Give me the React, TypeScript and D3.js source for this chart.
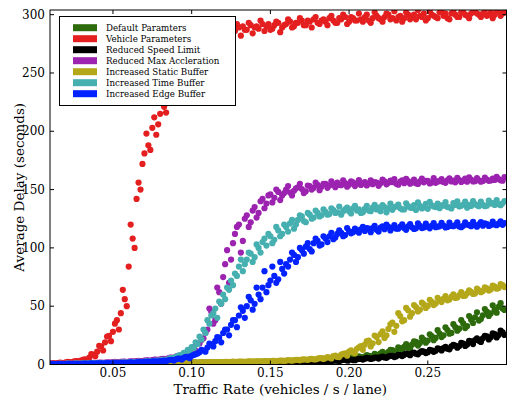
import React from "react";
import * as d3 from "d3";

// traffic rates (vehicles / s / lane), first batch of runs
const rates = [
  0.01, 0.0125, 0.015, 0.0175, 0.02, 0.0225, 0.025, 0.0275, 0.03, 0.0325,
  0.035, 0.0375, 0.04, 0.0425, 0.045, 0.0475, 0.05, 0.0525, 0.055, 0.0575,
  0.06, 0.0625, 0.065, 0.0675, 0.07, 0.0725, 0.075, 0.0775, 0.08, 0.0825,
  0.085, 0.0875, 0.09, 0.0925, 0.095, 0.0975, 0.1, 0.1025, 0.105, 0.1075,
  0.11, 0.1125, 0.115, 0.1175, 0.12, 0.1225, 0.125, 0.1275, 0.13, 0.1325,
  0.135, 0.1375, 0.14, 0.1425, 0.145, 0.1475, 0.15, 0.1525, 0.155, 0.1575,
  0.16, 0.1625, 0.165, 0.1675, 0.17, 0.1725, 0.175, 0.1775, 0.18, 0.1825,
  0.185, 0.1875, 0.19, 0.1925, 0.195, 0.1975, 0.2, 0.2025, 0.205, 0.2075,
  0.21, 0.2125, 0.215, 0.2175, 0.22, 0.2225, 0.225, 0.2275, 0.23, 0.2325,
  0.235, 0.2375, 0.24, 0.2425, 0.245, 0.2475, 0.25, 0.2525, 0.255, 0.2575,
  0.26, 0.2625, 0.265, 0.2675, 0.27, 0.2725, 0.275, 0.2775, 0.28, 0.2825,
  0.285, 0.2875, 0.29, 0.2925, 0.295, 0.2975,
];

// second batch of runs, in between
const ratesB = [
  0.01125, 0.01375, 0.01625, 0.01875, 0.02125, 0.02375, 0.02625, 0.02875, 0.03125, 0.03375,
  0.03625, 0.03875, 0.04125, 0.04375, 0.04625, 0.04875, 0.05125, 0.05375, 0.05625, 0.05875,
  0.06125, 0.06375, 0.06625, 0.06875, 0.07125, 0.07375, 0.07625, 0.07875, 0.08125, 0.08375,
  0.08625, 0.08875, 0.09125, 0.09375, 0.09625, 0.09875, 0.10125, 0.10375, 0.10625, 0.10875,
  0.11125, 0.11375, 0.11625, 0.11875, 0.12125, 0.12375, 0.12625, 0.12875, 0.13125, 0.13375,
  0.13625, 0.13875, 0.14125, 0.14375, 0.14625, 0.14875, 0.15125, 0.15375, 0.15625, 0.15875,
  0.16125, 0.16375, 0.16625, 0.16875, 0.17125, 0.17375, 0.17625, 0.17875, 0.18125, 0.18375,
  0.18625, 0.18875, 0.19125, 0.19375, 0.19625, 0.19875, 0.20125, 0.20375, 0.20625, 0.20875,
  0.21125, 0.21375, 0.21625, 0.21875, 0.22125, 0.22375, 0.22625, 0.22875, 0.23125, 0.23375,
  0.23625, 0.23875, 0.24125, 0.24375, 0.24625, 0.24875, 0.25125, 0.25375, 0.25625, 0.25875,
  0.26125, 0.26375, 0.26625, 0.26875, 0.27125, 0.27375, 0.27625, 0.27875, 0.28125, 0.28375,
  0.28625, 0.28875, 0.29125, 0.29375, 0.29625, 0.29875,
];

// average delay (seconds), batch A
const defaultParams = [
  0.2, 0.3, 0.3, 0.4, 0.4, 0.5, 0.5, 0.5, 0.6, 0.6,
  0.6, 0.7, 0.7, 0.7, 0.8, 0.8, 0.9, 0.9, 0.9, 1.0,
  1.0, 1.0, 1.1, 1.1, 1.1, 1.2, 1.2, 1.2, 1.3, 1.3,
  1.3, 1.4, 1.4, 1.4, 1.5, 1.5, 1.5, 1.6, 1.6, 1.6,
  1.7, 1.7, 1.7, 1.8, 1.8, 1.8, 1.9, 1.9, 2.0, 2.0,
  2.0, 2.1, 2.1, 2.2, 2.2, 2.3, 2.3, 2.4, 2.4, 2.5,
  2.5, 2.6, 2.7, 2.8, 2.9, 3.0, 3.1, 3.3, 3.4, 3.6,
  3.8, 4.0, 4.3, 4.1, 4.8, 5.0, 5.3, 5.1, 5.9, 6.4,
  6.8, 7.5, 7.1, 8.3, 9.5, 8.6, 10.8, 12.4, 11.2, 13.9,
  15.1, 14.2, 17.0, 19.5, 18.4, 21.1, 20.5, 24.3, 22.8, 26.6,
  25.0, 29.5, 27.1, 32.0, 30.7, 35.2, 33.0, 38.4, 40.5, 37.7,
  42.2, 45.3, 43.8, 47.0, 49.5, 48.0,
];
const vehicleParams = [
  0.8, 1.0, 1.2, 1.5, 1.8, 2.1, 2.5, 3.0, 3.6, 4.4,
  6.0, 8.5, 11.0, 15.5, 19.0, 24.5, 28.0, 38.0, 44.0, 56.0,
  84, 108, 142, 150, 181, 188, 203, 197, 215, 221,
  232, 244, 252, 260, 266, 270, 274, 277, 279, 281,
  283, 282, 285, 286, 284, 287, 288, 286, 289, 290,
  287, 291, 289, 288, 292, 290, 287, 291, 293, 289,
  292, 294, 290, 293, 295, 291, 294, 296, 293, 295,
  294, 297, 295, 293, 296, 298, 294, 297, 295, 296,
  298, 295, 297, 299, 296, 298, 300, 297, 295, 299,
  297, 300, 298, 296, 299, 301, 297, 300, 298, 302,
  299, 297, 301, 300, 298, 302, 299, 301, 303, 300,
  301, 299, 302, 300, 303, 301,
];
const speedLimit = [
  0.1, 0.1, 0.2, 0.2, 0.2, 0.3, 0.3, 0.3, 0.3, 0.4,
  0.4, 0.4, 0.5, 0.5, 0.5, 0.5, 0.6, 0.6, 0.6, 0.7,
  0.7, 0.7, 0.7, 0.8, 0.8, 0.8, 0.9, 0.9, 0.9, 0.9,
  1.0, 1.0, 1.0, 1.1, 1.1, 1.1, 1.2, 1.2, 1.2, 1.3,
  1.3, 1.3, 1.4, 1.4, 1.4, 1.5, 1.5, 1.5, 1.6, 1.6,
  1.6, 1.7, 1.7, 1.8, 1.8, 1.8, 1.9, 1.9, 2.0, 2.0,
  2.1, 2.1, 2.2, 2.3, 2.3, 2.4, 2.5, 2.6, 2.7, 2.8,
  2.9, 3.1, 3.3, 3.2, 3.6, 3.9, 4.1, 3.8, 4.5, 4.8,
  5.0, 5.4, 5.2, 6.0, 6.3, 6.1, 6.9, 7.4, 7.0, 8.1,
  8.4, 8.9, 9.6, 9.2, 10.5, 11.0, 10.6, 12.1, 11.8, 13.4,
  14.0, 13.6, 15.5, 16.3, 15.8, 18.0, 17.2, 19.8, 21.0, 20.3,
  22.5, 24.1, 23.4, 26.0, 25.2, 27.5,
];
const maxAccel = [
  0.5, 0.6, 0.7, 0.7, 0.8, 0.9, 1.0, 1.0, 1.1, 1.2,
  1.3, 1.4, 1.5, 1.6, 1.7, 1.8, 2.0, 2.1, 2.2, 2.4,
  2.5, 2.7, 2.9, 3.0, 3.3, 3.5, 3.8, 4.1, 4.4, 4.8,
  5.2, 6.0, 6.8, 7.5, 9.0, 11.0, 13.5, 12.0, 18.0, 22.5,
  30.0, 45.0, 38.0, 62.0, 75.0, 98.0, 90.0, 112.0, 120.0, 106.0,
  128.0, 122.0, 135.0, 130.0, 142.0, 138.0, 146.0, 143.0, 148.0, 145.0,
  150.0, 147.5, 149.0, 152.0, 150.5, 148.5, 153.0, 151.5, 154.0, 152.5,
  155.0, 153.5, 154.5, 156.0, 153.8, 155.5, 154.2, 156.2, 155.0, 154.0,
  156.5, 155.2, 154.6, 156.0, 155.4, 157.0, 155.8, 156.4, 155.0, 156.8,
  155.5, 157.2, 156.0, 155.4, 157.0, 156.2, 157.5, 156.0, 155.8, 157.2,
  156.5, 158.0, 157.0, 156.2, 158.2, 157.5, 156.8, 158.5, 157.2, 158.0,
  157.4, 158.6, 157.8, 158.2, 159.0, 157.6,
];
const staticBuffer = [
  0.3, 0.3, 0.4, 0.4, 0.5, 0.5, 0.5, 0.6, 0.6, 0.6,
  0.7, 0.7, 0.8, 0.8, 0.8, 0.9, 0.9, 1.0, 1.0, 1.0,
  1.1, 1.1, 1.2, 1.2, 1.2, 1.3, 1.3, 1.4, 1.4, 1.4,
  1.5, 1.5, 1.6, 1.6, 1.7, 1.7, 1.7, 1.8, 1.8, 1.9,
  1.9, 2.0, 2.0, 2.1, 2.1, 2.2, 2.2, 2.3, 2.4, 2.4,
  2.5, 2.6, 2.6, 2.7, 2.8, 2.9, 3.0, 3.1, 3.2, 3.3,
  3.4, 3.6, 3.7, 3.9, 4.1, 4.3, 4.6, 4.4, 5.0, 5.4,
  5.5, 6.0, 7.2, 6.5, 8.4, 9.5, 11.0, 10.2, 13.5, 15.8,
  17.0, 20.5, 18.2, 23.5, 26.0, 22.8, 30.5, 36.0, 33.2, 41.5,
  38.0, 46.5, 44.0, 49.2, 47.0, 51.5, 50.2, 53.8, 52.4, 55.0,
  56.2, 55.0, 58.0, 57.1, 59.6, 58.8, 61.0, 62.2, 60.8, 63.5,
  63.0, 65.2, 64.4, 66.8, 65.5, 68.0,
];
const timeBuffer = [
  0.3, 0.4, 0.4, 0.5, 0.5, 0.6, 0.6, 0.7, 0.8, 0.8,
  0.9, 1.0, 1.0, 1.1, 1.2, 1.3, 1.4, 1.5, 1.6, 1.7,
  1.8, 2.0, 2.1, 2.3, 2.5, 2.7, 3.0, 3.3, 3.6, 4.0,
  4.5, 5.5, 6.5, 8.0, 10.0, 12.5, 15.0, 19.0, 24.0, 30.0,
  38.0, 42.0, 48.0, 54.0, 60.0, 66.0, 72.0, 78.0, 84.0, 80.0,
  90.0, 95.0, 92.0, 100.0, 105.0, 102.0, 110.0, 107.0, 115.0, 112.0,
  118.0, 121.0, 116.5, 124.0, 127.0, 122.0, 128.5, 126.0, 130.0, 128.0,
  131.0, 129.0, 132.5, 130.5, 128.5, 133.0, 131.5, 134.0, 132.0, 130.0,
  133.5, 132.0, 134.5, 133.0, 131.5, 135.0, 133.8, 132.6, 135.5, 134.0,
  133.0, 135.8, 134.2, 132.5, 136.0, 134.8, 133.5, 136.5, 135.0, 134.0,
  136.2, 135.0, 133.8, 136.8, 135.5, 137.0, 134.5, 136.0, 137.5, 135.8,
  137.0, 136.2, 138.0, 136.8, 137.5, 138.2,
];
const edgeBuffer = [
  0.2, 0.3, 0.3, 0.4, 0.4, 0.5, 0.5, 0.6, 0.6, 0.7,
  0.8, 0.8, 0.9, 1.0, 1.0, 1.1, 1.2, 1.3, 1.4, 1.5,
  1.6, 1.7, 1.9, 2.0, 2.2, 2.4, 2.6, 2.8, 3.0, 3.3,
  3.6, 4.0, 4.5, 5.0, 5.8, 6.5, 7.5, 8.8, 10.5, 12.0,
  14.5, 17.0, 20.0, 23.0, 27.0, 30.0, 34.0, 38.0, 42.0, 46.0,
  50.0, 55.0, 52.0, 60.0, 66.0, 62.0, 72.0, 76.0, 73.0, 82.0,
  86.0, 90.0, 94.0, 92.0, 98.0, 101.0, 99.0, 104.0, 106.0, 103.0,
  108.0, 110.0, 107.5, 112.0, 113.0, 111.0, 114.5, 113.5, 115.0, 116.0,
  114.5, 116.5, 117.0, 115.5, 117.5, 116.0, 118.0, 117.2, 116.4, 118.2,
  117.0, 118.5, 117.6, 116.8, 118.8, 117.5, 118.2, 119.0, 117.8, 118.6,
  119.2, 118.0, 118.8, 119.5, 118.4, 119.0, 120.0, 118.6, 119.4, 120.2,
  119.0, 120.4, 119.6, 120.0, 120.8, 119.8,
];

// average delay (seconds), batch B
const defaultParamsB = [
  0.3, 0.2, 0.4, 0.3, 0.5, 0.4, 0.6, 0.5, 0.7, 0.5,
  0.7, 0.6, 0.8, 0.7, 0.9, 0.8, 1.0, 0.9, 1.0, 0.9,
  1.1, 1.0, 1.2, 1.0, 1.2, 1.1, 1.3, 1.2, 1.4, 1.2,
  1.4, 1.3, 1.5, 1.4, 1.6, 1.4, 1.7, 1.5, 1.7, 1.6,
  1.8, 1.6, 1.9, 1.7, 1.9, 1.8, 2.0, 1.9, 2.1, 1.9,
  2.2, 2.0, 2.3, 2.1, 2.4, 2.2, 2.5, 2.3, 2.6, 2.4,
  2.8, 2.5, 3.0, 2.7, 3.2, 2.9, 3.5, 3.1, 3.8, 3.4,
  4.3, 3.7, 4.9, 4.2, 5.6, 4.6, 6.2, 5.4, 6.9, 5.9,
  8.0, 6.9, 9.2, 7.8, 10.9, 9.1, 12.6, 10.2, 14.8, 12.0,
  17.5, 13.6, 19.8, 16.2, 23.0, 18.7, 25.9, 20.9, 29.4, 23.5,
  31.8, 26.4, 34.6, 29.0, 38.0, 31.2, 41.5, 35.6, 44.8, 39.0,
  47.5, 41.6, 50.8, 44.4, 52.6, 46.8,
];
const vehicleParamsB = [
  1.2, 0.9, 1.6, 1.3, 2.2, 1.8, 3.0, 2.6, 4.2, 3.5,
  9.0, 7.0, 16.0, 12.0, 24.0, 20.0, 35.0, 30.0, 64.0, 50.0,
  120, 100, 156, 172, 198, 184, 212, 206, 224, 216,
  238, 232, 256, 248, 262, 270, 268, 276, 280, 273,
  286, 278, 289, 281, 291, 283, 285, 292, 282, 287,
  293, 284, 290, 295, 286, 292, 288, 294, 285, 291,
  296, 289, 293, 297, 291, 295, 289, 298, 292, 296,
  291, 299, 293, 297, 300, 292, 298, 295, 301, 294,
  300, 293, 302, 297, 294, 301, 296, 303, 298, 294,
  302, 296, 300, 304, 298, 295, 303, 299, 297, 304,
  301, 296, 304, 298, 302, 300, 297, 304, 301, 298,
  304, 300, 297, 303, 299, 302,
];
const speedLimitB = [
  0.2, 0.0, 0.3, 0.1, 0.3, 0.2, 0.4, 0.2, 0.4, 0.3,
  0.5, 0.3, 0.6, 0.4, 0.6, 0.4, 0.7, 0.5, 0.7, 0.6,
  0.8, 0.6, 0.8, 0.7, 0.9, 0.7, 1.0, 0.8, 1.0, 0.9,
  1.1, 0.9, 1.1, 1.0, 1.2, 1.0, 1.3, 1.1, 1.3, 1.2,
  1.4, 1.2, 1.5, 1.3, 1.5, 1.4, 1.6, 1.4, 1.7, 1.5,
  1.8, 1.5, 1.9, 1.6, 2.0, 1.7, 2.1, 1.8, 2.2, 1.9,
  2.3, 2.0, 2.4, 2.1, 2.5, 2.3, 2.7, 2.4, 2.9, 2.6,
  3.2, 2.8, 3.5, 3.0, 3.9, 3.4, 4.3, 3.7, 4.8, 4.2,
  5.6, 4.7, 6.0, 5.1, 6.8, 5.7, 7.5, 6.4, 8.3, 7.2,
  9.4, 8.0, 10.1, 8.7, 11.4, 9.8, 12.5, 10.9, 13.8, 12.0,
  15.2, 13.0, 16.8, 14.4, 18.5, 15.9, 20.3, 17.5, 22.4, 19.4,
  24.6, 21.5, 26.8, 23.2, 29.0, 25.4,
];
const maxAccelB = [
  0.7, 0.4, 0.8, 0.6, 1.0, 0.8, 1.1, 0.9, 1.3, 1.1,
  1.5, 1.2, 1.7, 1.4, 1.9, 1.6, 2.2, 1.9, 2.5, 2.1,
  2.8, 2.4, 3.2, 2.7, 3.6, 3.1, 4.2, 3.6, 4.9, 4.1,
  6.0, 5.0, 7.5, 6.2, 9.8, 8.4, 15.0, 10.5, 21.0, 27.0,
  48.0, 35.0, 66.0, 52.0, 86.0, 70.0, 104.0, 118.0, 96.0, 125.0,
  118.0, 132.0, 126.0, 140.0, 134.0, 145.0, 139.0, 150.0, 141.0, 147.0,
  153.0, 145.0, 151.0, 155.0, 147.0, 153.5, 150.0, 156.0, 149.5, 155.0,
  151.5, 157.0, 152.0, 154.0, 158.0, 152.5, 157.0, 153.0, 158.2, 155.5,
  153.6, 158.0, 156.5, 153.2, 158.5, 154.5, 157.6, 159.0, 154.2, 158.0,
  159.2, 155.0, 158.6, 154.8, 159.5, 157.5, 155.2, 159.8, 157.0, 159.0,
  155.8, 159.6, 157.6, 160.0, 156.5, 159.4, 160.5, 157.0, 159.8, 156.8,
  160.2, 157.5, 159.4, 161.0, 158.0, 160.6,
];
const staticBufferB = [
  0.4, 0.2, 0.5, 0.3, 0.6, 0.4, 0.7, 0.5, 0.7, 0.6,
  0.8, 0.6, 0.9, 0.7, 1.0, 0.8, 1.1, 0.9, 1.1, 1.0,
  1.2, 1.0, 1.3, 1.1, 1.4, 1.2, 1.5, 1.3, 1.5, 1.4,
  1.6, 1.4, 1.7, 1.5, 1.8, 1.6, 1.9, 1.7, 2.0, 1.8,
  2.0, 1.9, 2.1, 2.0, 2.3, 2.1, 2.4, 2.2, 2.5, 2.3,
  2.7, 2.4, 2.8, 2.6, 3.0, 2.8, 3.2, 2.9, 3.4, 3.1,
  3.7, 3.3, 4.0, 3.6, 4.4, 4.0, 4.9, 4.3, 5.5, 4.8,
  6.4, 5.2, 7.6, 6.4, 9.2, 7.6, 12.2, 9.6, 14.8, 12.6,
  20.0, 15.5, 24.8, 19.2, 28.5, 25.0, 34.5, 28.0, 44.0, 37.0,
  48.5, 41.0, 51.0, 45.5, 53.0, 48.5, 55.5, 51.0, 57.2, 53.5,
  58.6, 55.8, 60.2, 57.5, 62.0, 59.0, 63.6, 60.5, 65.0, 62.0,
  66.2, 63.4, 67.6, 65.0, 69.0, 66.4,
];
const timeBufferB = [
  0.5, 0.3, 0.6, 0.4, 0.7, 0.5, 0.8, 0.6, 0.9, 0.7,
  1.1, 0.9, 1.2, 1.0, 1.4, 1.2, 1.6, 1.4, 1.8, 1.6,
  2.1, 1.9, 2.4, 2.1, 2.8, 2.4, 3.2, 2.8, 3.9, 3.4,
  5.5, 4.6, 7.5, 6.2, 9.5, 11.8, 14.0, 17.5, 21.5, 27.0,
  35.0, 44.0, 40.0, 52.0, 56.0, 64.0, 68.0, 76.0, 90.0, 86.0,
  96.0, 88.0, 103.0, 96.0, 108.0, 112.0, 104.0, 118.0, 110.0, 120.0,
  114.0, 124.0, 120.0, 128.0, 123.0, 130.0, 125.0, 132.0, 127.0, 133.0,
  128.5, 134.0, 130.0, 135.5, 131.5, 134.5, 129.5, 136.0, 133.0, 130.5,
  136.0, 131.5, 137.0, 134.5, 136.8, 130.5, 138.0, 135.0, 137.2, 133.0,
  138.2, 134.6, 136.8, 139.0, 133.8, 137.8, 139.5, 135.5, 138.0, 136.5,
  139.2, 134.8, 138.5, 140.0, 136.2, 139.6, 137.0, 140.2, 136.5, 139.8,
  135.8, 140.5, 138.4, 141.0, 136.6, 140.2,
];
const edgeBufferB = [
  0.3, 0.1, 0.4, 0.2, 0.5, 0.3, 0.6, 0.4, 0.7, 0.5,
  0.9, 0.7, 1.0, 0.8, 1.1, 0.9, 1.3, 1.1, 1.5, 1.2,
  1.8, 1.5, 2.0, 1.7, 2.3, 2.0, 2.7, 2.3, 3.2, 2.7,
  3.9, 3.4, 5.0, 4.2, 6.5, 5.4, 8.2, 9.5, 12.5, 11.0,
  18.0, 15.5, 23.5, 19.0, 30.0, 25.0, 38.0, 32.0, 49.0, 40.0,
  58.0, 47.0, 66.0, 56.0, 80.0, 68.0, 84.0, 70.0, 88.0, 78.0,
  84.0, 96.0, 88.0, 100.0, 95.0, 104.0, 97.0, 108.0, 102.0, 110.0,
  105.0, 113.0, 109.0, 115.0, 110.0, 117.0, 112.5, 116.5, 113.0, 118.0,
  117.0, 113.5, 119.0, 114.0, 118.5, 120.0, 115.0, 119.5, 116.5, 120.2,
  115.5, 120.5, 116.2, 121.0, 117.0, 120.8, 116.8, 121.2, 118.2, 121.5,
  117.5, 121.6, 118.6, 122.0, 117.8, 121.8, 119.6, 122.4, 118.2, 122.2,
  121.0, 118.8, 122.5, 119.5, 122.8, 121.2,
];

const seriesNames = [
  "Default Paramters",
  "Vehicle Parameters",
  "Reduced Speed Limit",
  "Reduced Max Accleration",
  "Increased Static Buffer",
  "Increased Time Buffer",
  "Increased Edge Buffer",
];
const seriesA = [defaultParams, vehicleParams, speedLimit, maxAccel, staticBuffer, timeBuffer, edgeBuffer];
const seriesB = [defaultParamsB, vehicleParamsB, speedLimitB, maxAccelB, staticBufferB, timeBufferB, edgeBufferB];
const colors = ["#2d6a0c", "#e41f1f", "#000000", "#9c22b0", "#b4a81a", "#46afaf", "#0322ff"];

const xTicks = [0.05, 0.1, 0.15, 0.2, 0.25];
const yTicks = [0, 50, 100, 150, 200, 250, 300];

const W = 508;
const H = 399;
const margin = { top: 10, right: 1.5, bottom: 34.5, left: 50 };
const font = "'DejaVu Serif', serif";

export default function App() {
  const x = d3.scaleLinear().domain([0.01, 0.3]).range([margin.left, W - margin.right]);
  const y = d3.scaleLinear().domain([0, 304]).range([H - margin.bottom, margin.top]);
  const [x0, x1] = x.range();
  const [y0, y1] = y.range();
  const fmt = d3.format(".2f");

  return (
    <svg
      width={W}
      height={H}
      style={{ position: "fixed", left: 0, top: 0, background: "#fff" }}
      fontFamily={font}
    >
      <defs>
        <clipPath id="plot">
          <rect x={x0} y={y1} width={x1 - x0} height={y0 - y1} />
        </clipPath>
      </defs>

      <g clipPath="url(#plot)">
        {seriesA.map((vals, s) => (
          <g key={s} fill={colors[s]}>
            {vals.map((v, i) => (
              <circle key={"a" + i} cx={x(rates[i])} cy={y(v)} r={3.1} />
            ))}
            {seriesB[s].map((v, i) => (
              <circle key={"b" + i} cx={x(ratesB[i])} cy={y(v)} r={3.1} />
            ))}
          </g>
        ))}
      </g>

      {/* frame */}
      <rect x={x0} y={y1} width={x1 - x0} height={y0 - y1} fill="none" stroke="#000" strokeWidth={1} />

      {/* ticks point inwards on all four sides */}
      {xTicks.map((t) => (
        <g key={t}>
          <line x1={x(t)} x2={x(t)} y1={y0} y2={y0 - 4} stroke="#000" />
          <line x1={x(t)} x2={x(t)} y1={y1} y2={y1 + 4} stroke="#000" />
          <text x={x(t)} y={377} textAnchor="middle" fontSize={12}>
            {fmt(t)}
          </text>
        </g>
      ))}
      {yTicks.map((t) => (
        <g key={t}>
          <line x1={x0} x2={x0 + 4} y1={y(t)} y2={y(t)} stroke="#000" />
          <line x1={x1} x2={x1 - 4} y1={y(t)} y2={y(t)} stroke="#000" />
          <text x={45} y={y(t)} dy="0.35em" textAnchor="end" fontSize={12}>
            {t}
          </text>
        </g>
      ))}

      <text x={(x0 + x1) / 2 + 2} y={394} textAnchor="middle" fontSize={13.5}>
        Traffic Rate (vehicles / s / lane)
      </text>
      <text
        transform={`translate(24, ${(y0 + y1) / 2}) rotate(-90)`}
        textAnchor="middle"
        fontSize={13.5}
      >
        Average Delay (seconds)
      </text>

      {/* legend */}
      <g>
        <rect x={59.5} y={16.5} width={176} height={89} fill="#fff" stroke="#000" strokeWidth={1} />
        {seriesNames.map((name, i) => (
          <g key={name} transform={`translate(0, ${27.7 + i * 11})`}>
            <rect x={73} y={-3.5} width={24} height={7} fill={colors[i]} />
            <text x={106} y={0} dy="0.35em" fontSize={8.7}>
              {name}
            </text>
          </g>
        ))}
      </g>
    </svg>
  );
}
